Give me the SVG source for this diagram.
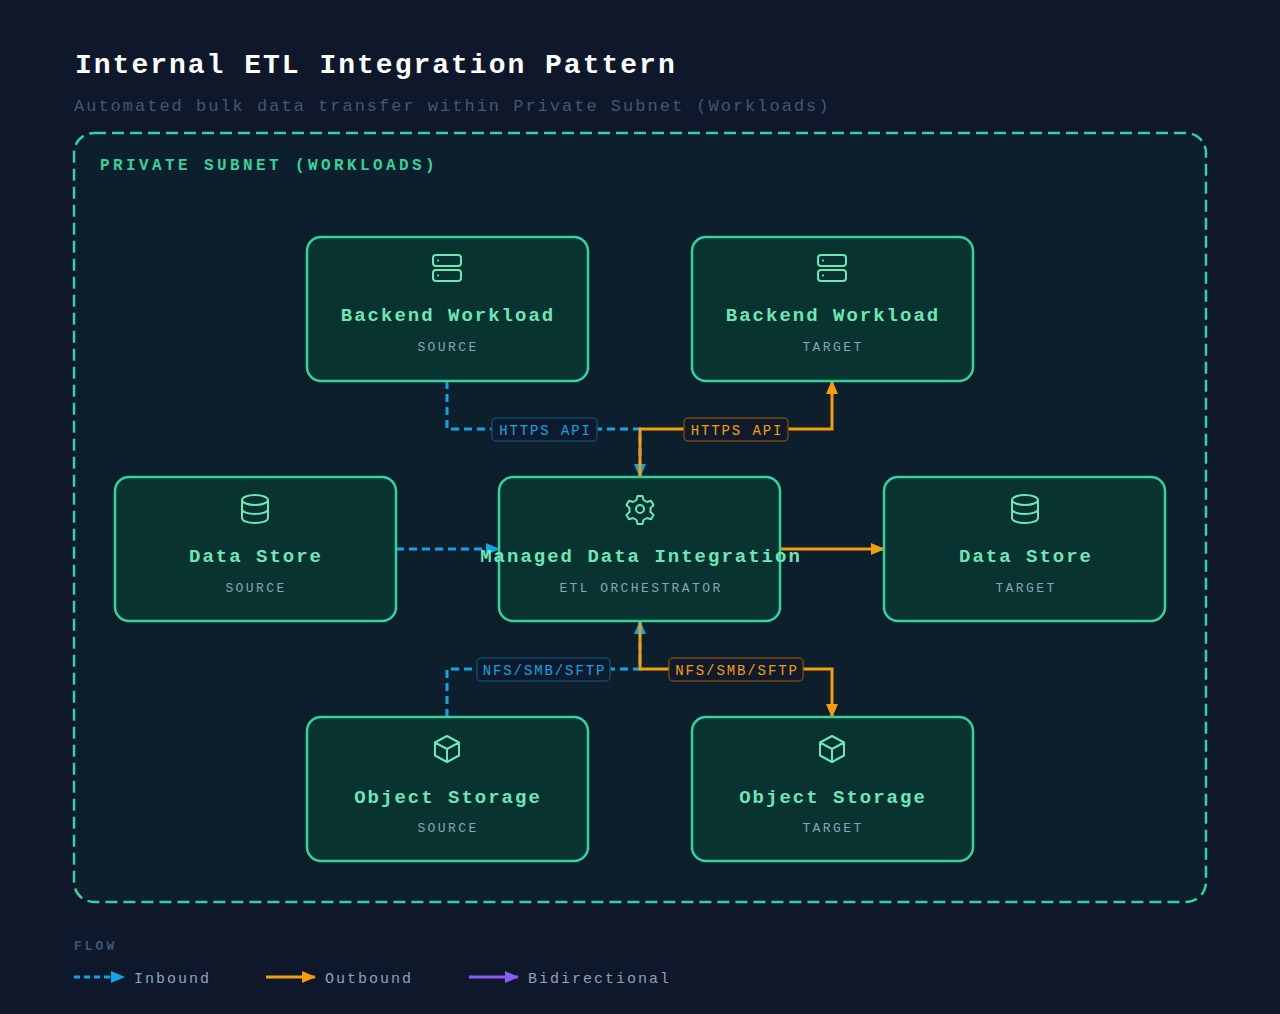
<svg xmlns="http://www.w3.org/2000/svg" width="1280" height="1014" viewBox="0 0 1280 1014">
<style>
text{font-family:"Liberation Mono","Courier New",monospace}
.node rect.b{fill:#093330;stroke:#34d399;stroke-width:2.5}
.t{fill:#6ee7b7;font-size:19px;font-weight:bold;text-anchor:middle;letter-spacing:2px}
.s{fill:#8ba3b8;font-size:13px;text-anchor:middle;letter-spacing:2.4px}
.ic{fill:none;stroke:#6ee7b7;stroke-width:2;stroke-linecap:round;stroke-linejoin:round}
.in{fill:none;stroke:#0ea5e9;stroke-width:3;stroke-dasharray:8 5}
.out{fill:none;stroke:#f59e0b;stroke-width:3}
.lb{fill:#0f1b2d;stroke-width:1.5}
.lt{font-size:14px;text-anchor:middle;letter-spacing:1.9px}
.lg{fill:#8ba3b8;font-size:15px;letter-spacing:2px}
</style>
<defs>
<marker id="ab" markerWidth="14" markerHeight="14" refX="13" refY="7" orient="auto" markerUnits="userSpaceOnUse" viewBox="0 0 14 14"><path d="M0,1L14,7L0,13z" fill="#0ea5e9"/></marker>
<marker id="ao" markerWidth="14" markerHeight="14" refX="13" refY="7" orient="auto" markerUnits="userSpaceOnUse" viewBox="0 0 14 14"><path d="M0,1L14,7L0,13z" fill="#f59e0b"/></marker>
<marker id="ap" markerWidth="14" markerHeight="14" refX="13" refY="7" orient="auto" markerUnits="userSpaceOnUse" viewBox="0 0 14 14"><path d="M0,1L14,7L0,13z" fill="#8b5cf6"/></marker>
</defs>
<rect width="1280" height="1014" fill="#0f172a"/>
<text x="75" y="73" fill="#ffffff" font-size="28" font-weight="bold" letter-spacing="2">Internal ETL Integration Pattern</text>
<text x="74" y="111" fill="#3f5873" font-size="17" letter-spacing="2">Automated bulk data transfer within Private Subnet (Workloads)</text>
<rect x="74" y="133" width="1132" height="769" rx="20" fill="#0d1f2c" stroke="#34d399" stroke-width="2.5" stroke-dasharray="12 6"/>
<text x="100" y="170" fill="#34d399" font-size="16" font-weight="bold" letter-spacing="3.4">PRIVATE SUBNET (WORKLOADS)</text>

<g id="connectors">
<path class="in" d="M447,381V429H640V477" marker-end="url(#ab)"/>
<path class="out" d="M640,477V429H832V381" marker-end="url(#ao)"/>
<path class="in" d="M396,549H499" marker-end="url(#ab)"/>
<path class="out" d="M780,549H884" marker-end="url(#ao)"/>
<path class="in" d="M447,717V669H640V621" marker-end="url(#ab)"/>
<path class="out" d="M640,621V669H832V717" marker-end="url(#ao)"/>
<rect class="lb" x="492" y="418" width="105" height="23" rx="4" stroke="#0c4a6e"/>
<text class="lt" x="545.5" y="435" fill="#0ea5e9">HTTPS API</text>
<rect class="lb" x="684" y="418" width="104" height="23" rx="4" stroke="#78460f"/>
<text class="lt" x="737" y="435" fill="#f59e0b">HTTPS API</text>
<rect class="lb" x="477" y="658" width="133" height="23" rx="4" stroke="#0c4a6e"/>
<text class="lt" x="544.5" y="675" fill="#0ea5e9">NFS/SMB/SFTP</text>
<rect class="lb" x="669" y="658" width="134" height="23" rx="4" stroke="#78460f"/>
<text class="lt" x="737" y="675" fill="#f59e0b">NFS/SMB/SFTP</text>
</g>

<g id="bw-source" class="node"><rect class="b" x="307" y="237" width="281" height="144" rx="14"/>
<g class="ic" transform="translate(447,268)"><rect x="-14" y="-13" width="28" height="11" rx="3"/><rect x="-14" y="2" width="28" height="11" rx="3"/><path d="M-9,-7.5h0.1M-9,7.5h0.1"/></g>
<text class="t" x="448" y="321">Backend Workload</text><text class="s" x="448" y="351">SOURCE</text></g>

<g id="bw-target" class="node"><rect class="b" x="692" y="237" width="281" height="144" rx="14"/>
<g class="ic" transform="translate(832,268)"><rect x="-14" y="-13" width="28" height="11" rx="3"/><rect x="-14" y="2" width="28" height="11" rx="3"/><path d="M-9,-7.5h0.1M-9,7.5h0.1"/></g>
<text class="t" x="833" y="321">Backend Workload</text><text class="s" x="833" y="351">TARGET</text></g>

<g id="ds-source" class="node"><rect class="b" x="115" y="477" width="281" height="144" rx="14"/>
<g class="ic" transform="translate(255,509)"><ellipse cx="0" cy="-9" rx="13" ry="5"/><path d="M-13,-9V9c0,3 6,5 13,5s13-2 13-5V-9M-13,0c0,3 6,5 13,5s13-2 13-5"/></g>
<text class="t" x="256" y="562">Data Store</text><text class="s" x="256" y="592">SOURCE</text></g>

<g id="mdi" class="node"><rect class="b" x="499" y="477" width="281" height="144" rx="14"/>
<g class="ic" transform="translate(640,509)"><circle r="4"/><path d="M-2.5,-13h5l1,4l3.5,2l4,-1.2l2.5,4.3l-3,2.9v4l3,2.9l-2.5,4.3l-4,-1.2l-3.5,2l-1,4h-5l-1,-4l-3.5,-2l-4,1.2l-2.5,-4.3l3,-2.9v-4l-3,-2.9l2.5,-4.3l4,1.2l3.5,-2z"/></g>
<text class="t" x="641" y="562">Managed Data Integration</text><text class="s" x="641" y="592">ETL ORCHESTRATOR</text></g>

<g id="ds-target" class="node"><rect class="b" x="884" y="477" width="281" height="144" rx="14"/>
<g class="ic" transform="translate(1025,509)"><ellipse cx="0" cy="-9" rx="13" ry="5"/><path d="M-13,-9V9c0,3 6,5 13,5s13-2 13-5V-9M-13,0c0,3 6,5 13,5s13-2 13-5"/></g>
<text class="t" x="1026" y="562">Data Store</text><text class="s" x="1026" y="592">TARGET</text></g>

<g id="os-source" class="node"><rect class="b" x="307" y="717" width="281" height="144" rx="14"/>
<g class="ic" transform="translate(447,749)"><path d="M0,-13L12,-6.5V6.5L0,13L-12,6.5V-6.5ZM-12,-6.5L0,0L12,-6.5M0,0V13"/></g>
<text class="t" x="448" y="803">Object Storage</text><text class="s" x="448" y="832">SOURCE</text></g>

<g id="os-target" class="node"><rect class="b" x="692" y="717" width="281" height="144" rx="14"/>
<g class="ic" transform="translate(832,749)"><path d="M0,-13L12,-6.5V6.5L0,13L-12,6.5V-6.5ZM-12,-6.5L0,0L12,-6.5M0,0V13"/></g>
<text class="t" x="833" y="803">Object Storage</text><text class="s" x="833" y="832">TARGET</text></g>

<g id="legend">
<text x="74" y="950" fill="#3f5873" font-size="13" font-weight="bold" letter-spacing="3">FLOW</text>
<path d="M74,977H124" stroke="#0ea5e9" stroke-width="3" stroke-dasharray="6 4" marker-end="url(#ab)" fill="none"/>
<text class="lg" x="134" y="983">Inbound</text>
<path d="M266,977H315" stroke="#f59e0b" stroke-width="3" marker-end="url(#ao)" fill="none"/>
<text class="lg" x="325" y="983">Outbound</text>
<path d="M469,977H518" stroke="#8b5cf6" stroke-width="3" marker-end="url(#ap)" fill="none"/>
<text class="lg" x="528" y="983">Bidirectional</text>
</g>
</svg>
